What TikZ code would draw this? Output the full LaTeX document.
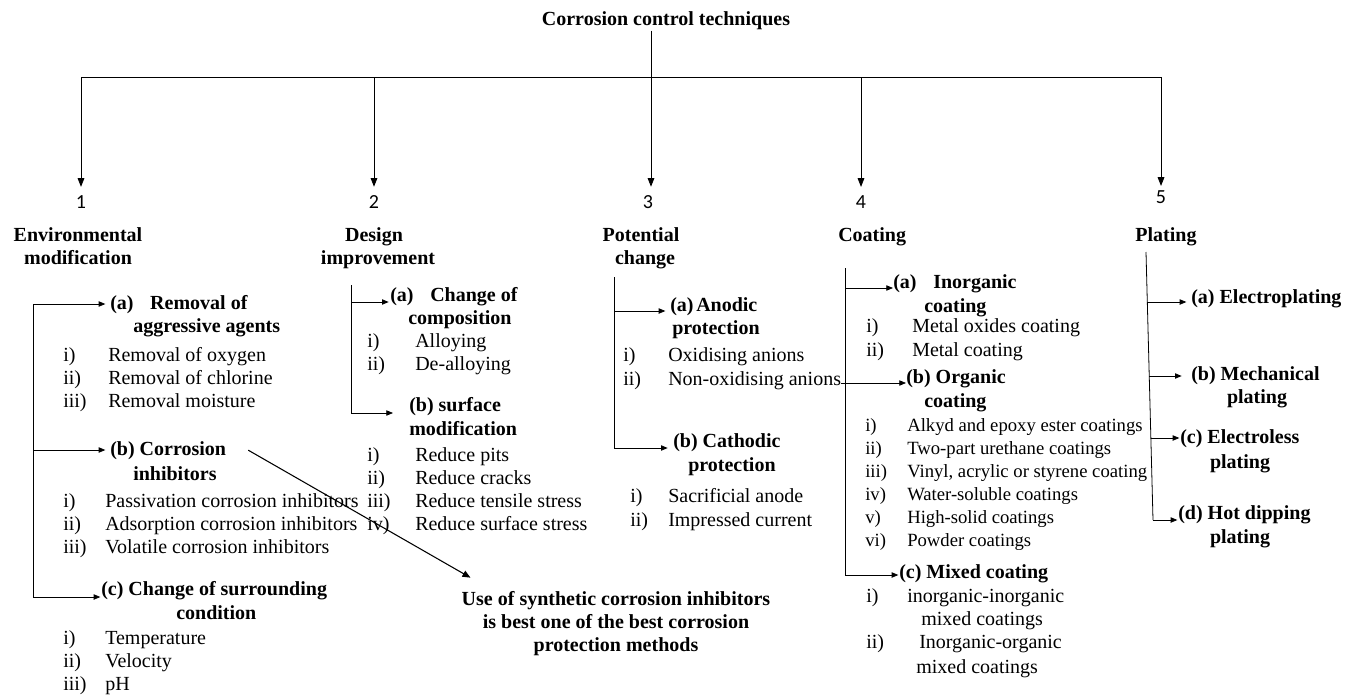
\documentclass[tikz,border=0pt]{standalone}
\usepackage{fontspec}
\setmainfont{Liberation Serif}
\newfontfamily\numfont{Carlito}
\usetikzlibrary{arrows.meta}
\newcommand\itm[6]{\node[txt] (#1l) at (#2,#4) {#5}; \node[txt] (#1t) at (#3,#4) {#6};}
\newcommand\itms[6]{\node[txts] (#1l) at (#2,#4) {#5}; \node[txts] (#1t) at (#3,#4) {#6};}
\begin{document}
\begin{tikzpicture}[x=0.75pt,y=-0.75pt,
  font=\fontsize{15}{17}\selectfont,
  txt/.style={anchor=base west, inner sep=0pt},
  txts/.style={anchor=base west, inner sep=0pt, font=\fontsize{14}{16}\selectfont},
  hd/.style={anchor=base west, inner sep=0pt, font=\fontsize{15}{17}\selectfont\bfseries},
  hdc/.style={anchor=base, inner sep=0pt, font=\fontsize{15}{17}\selectfont\bfseries},
  num/.style={anchor=base, inner sep=0pt, font=\fontsize{15}{17}\selectfont\numfont},
  ln/.style={line width=0.6pt},
  big/.style={line width=0.6pt, -{Triangle[length=6.5pt,width=5pt]}, shorten >=6pt},
  sm/.style={line width=0.6pt, -{Triangle[length=5pt,width=4pt]}},
]
\useasboundingbox (0,0) rectangle (1346,696);
% ---------- title and top bar
\node[hdc] (title) at (666,26) {Corrosion control techniques};
\coordinate (tj) at (651,77);
\coordinate (t1) at (81,77);
\coordinate (t2) at (374,77);
\coordinate (t4) at (861,77);
\coordinate (t5) at (1161,77);
\draw[ln] (title.south -| tj) -- (tj);
\draw[ln] (t1) -- (t5);
\node[num] (n1) at (81,208) {1};
\node[num] (n2) at (374,208) {2};
\node[num] (n3) at (648,208) {3};
\node[num] (n4) at (861,208) {4};
\node[num] (n5) at (1161,203) {5};
\draw[big] (t1) -- (t1 |- n1.north);
\draw[big] (t2) -- (t2 |- n2.north);
\draw[big] (tj) -- (tj |- n3.north);
\draw[big] (t4) -- (t4 |- n4.north);
\draw[big, shorten >=3pt] (t5) -- (t5 |- n5.north);
% ---------- headings
\node[hdc] (h1a) at (78,241) {Environmental};
\node[hdc] (h1b) at (78,264) {modification};
\node[hdc] (h2a) at (374,241) {Design};
\node[hdc] (h2b) at (378,264) {improvement};
\node[hdc] (h3a) at (641,241) {Potential};
\node[hdc] (h3b) at (645,264) {change};
\node[hd] (h4) at (838,241) {Coating};
\node[hdc] (h5) at (1166,241) {Plating};
% ---------- column 1
\node[hd] (ea) at (110,309) {(a)\hspace{12.5pt}Removal of};
\node[hd] (ea2) at (133,332) {aggressive agents};
\itm{ea1}{63}{108}{361}{i)}{Removal of oxygen}
\itm{ea2i}{63}{108}{384}{ii)}{Removal of chlorine}
\itm{ea3}{63}{108}{407}{iii)}{Removal moisture}
\node[hd] (eb) at (110,455) {(b) Corrosion};
\node[hd] (eb2) at (133,480) {inhibitors};
\itm{eb1}{63}{105}{507}{i)}{Passivation corrosion inhibitors}
\itm{eb2i}{63}{105}{530}{ii)}{Adsorption corrosion inhibitors}
\itm{eb3}{63}{105}{553}{iii)}{Volatile corrosion inhibitors}
\node[hd] (ec) at (101,595) {(c) Change of surrounding};
\node[hd] (ec2) at (176,619) {condition};
\itm{ec1}{63}{105}{644}{i)}{Temperature}
\itm{ec2i}{63}{105}{667}{ii)}{Velocity}
\itm{ec3}{63}{105}{690}{iii)}{pH}
\coordinate (e0) at (33,304);
\coordinate (e1) at (33,450);
\coordinate (e2) at (33,597);
\draw[ln] (e0) -- (e2);
\draw[sm, shorten >=3.5pt] (e0) -- (e0 -| ea.west);
\draw[sm, shorten >=3.5pt] (e1) -- (e1 -| eb.west);
\draw[sm, shorten >=0.5pt] (e2) -- (e2 -| ec.west);
% ---------- column 2
\node[hd] (da) at (390,301) {(a)\hspace{12.5pt}Change of};
\node[hd] (da2) at (408,324) {composition};
\itm{da1}{367}{415}{347}{i)}{Alloying}
\itm{da2i}{367}{415}{370}{ii)}{De-alloying}
\node[hd] (db) at (409,411) {(b) surface};
\node[hd] (db2) at (409,435) {modification};
\itm{db1}{367}{415}{461}{i)}{Reduce pits}
\itm{db2i}{367}{415}{484}{ii)}{Reduce cracks}
\itm{db3}{367}{415}{507}{iii)}{Reduce tensile stress}
\itm{db4}{367}{415}{530}{iv)}{Reduce surface stress}
\coordinate (d0) at (351,285);
\coordinate (d1) at (351,302);
\coordinate (d2) at (351,413);
\draw[ln] (d0) -- (d2);
\draw[sm, shorten >=1pt] (d1) -- (d1 -| da.west);
\draw[sm, shorten >=12pt] (d2) -- (d2 -| db.west);
% ---------- column 3
\node[hd] (pa) at (670,311) {(a)\hspace{2pt}Anodic};
\node[hd] (pa2) at (672,334) {protection};
\itm{pa1}{623}{668}{361}{i)}{Oxidising anions}
\itm{pa2i}{623}{668}{385}{ii)}{Non-oxidising anions}
\node[hd] (pb) at (673,447) {(b) Cathodic};
\node[hd] (pb2) at (688,471) {protection};
\itm{pb1}{630}{668}{502}{i)}{Sacrificial anode}
\itm{pb2i}{630}{668}{526}{ii)}{Impressed current}
\coordinate (p0) at (614,277);
\coordinate (p1) at (614,311);
\coordinate (p2) at (614,448);
\draw[ln] (p0) -- (p2);
\draw[sm, shorten >=3.5pt] (p1) -- (p1 -| pa.west);
\draw[sm, shorten >=4pt] (p2) -- (p2 -| pb.west);
% ---------- column 4
\node[hd] (ca) at (893,288) {(a)\hspace{12.5pt}Inorganic};
\node[hd] (ca2) at (924,312) {coating};
\itm{ca1}{866}{912}{332}{i)}{Metal oxides coating}
\itm{ca2i}{866}{912}{356}{ii)}{Metal coating}
\node[hd] (cb) at (906,383) {(b) Organic};
\node[hd] (cb2) at (924,407) {coating};
\itms{cb1}{865}{907}{431}{i)}{Alkyd and epoxy ester coatings}
\itms{cb2i}{865}{907}{454}{ii)}{Two-part urethane coatings}
\itms{cb3}{865}{907}{477}{iii)}{Vinyl, acrylic or styrene coating}
\itms{cb4}{865}{907}{500}{iv)}{Water-soluble coatings}
\itms{cb5}{865}{907}{523}{v)}{High-solid coatings}
\itms{cb6}{865}{907}{546}{vi)}{Powder coatings}
\node[hd] (cc) at (899,578) {(c) Mixed coating};
\itm{cc1}{866}{907}{602}{i)}{inorganic-inorganic}
\node[txt] (cc1b) at (921,625) {mixed coatings};
\itm{cc2i}{866}{919}{648}{ii)}{Inorganic-organic}
\node[txt] (cc2b) at (916,673) {mixed coatings};
\coordinate (c0) at (845,268);
\coordinate (c1) at (845,288);
\coordinate (c2) at (845,383);
\coordinate (c3) at (845,575);
\draw[ln] (c0) -- (c3);
\draw[sm] (c1) -- (c1 -| ca.west);
\draw[ln] (pa2it.east |- c2) -- (c2);
\draw[sm] (c2) -- (c2 -| cb.west);
\draw[sm, shorten >=0.5pt] (c3) -- (c3 -| cc.west);
% ---------- column 5
\node[hd] (la) at (1191,303) {(a) Electroplating};
\node[hd] (lb) at (1191,380) {(b) Mechanical};
\node[hdc] (lb2) at (1257,403) {plating};
\node[hd] (lc) at (1180,443) {(c) Electroless};
\node[hdc] (lc2) at (1240,468) {plating};
\node[hd] (ld) at (1178,519) {(d) Hot dipping};
\node[hdc] (ld2) at (1240,543) {plating};
\coordinate (l0) at (1146,252);
\coordinate (l1) at (1147.3,302);
\coordinate (l2) at (1149.2,376);
\coordinate (l3) at (1150.9,438);
\coordinate (l4) at (1153,520);
\draw[ln] (l0) -- (l4);
\draw[sm, shorten >=3.5pt] (l1) -- (l1 -| la.west);
\draw[sm, shorten >=7pt] (l2) -- (l2 -| lb.west);
\draw[sm, shorten >=0.5pt] (l3) -- (l3 -| lc.west);
\draw[sm, shorten >=0.5pt] (l4) -- (l4 -| ld.west);
% ---------- conclusion
\node[hdc] (u1) at (616,605) {Use of synthetic corrosion inhibitors};
\node[hdc] (u2) at (616,628) {is best one of the best corrosion};
\node[hdc] (u3) at (616,651) {protection methods};
\draw[line width=0.8pt, -{Triangle[length=6pt,width=5pt]}] ([xshift=16.5pt]eb.east) -- ([xshift=6.75pt,yshift=9.75pt]u1.north west);
\end{tikzpicture}
\end{document}
